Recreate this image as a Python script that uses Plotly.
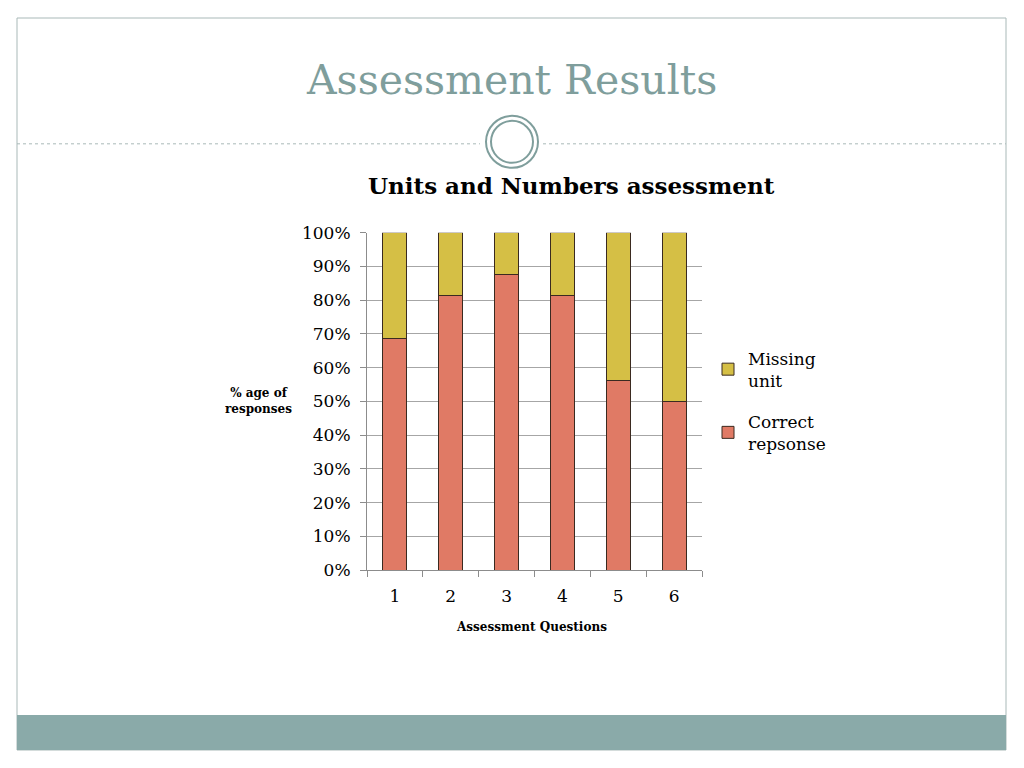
import plotly.graph_objects as go

# Data
questions = ["1", "2", "3", "4", "5", "6"]
correct_response = [68.75, 81.25, 87.5, 81.25, 56.25, 50.0]
missing_unit = [31.25, 18.75, 12.5, 18.75, 43.75, 50.0]
y_ticks = [0, 10, 20, 30, 40, 50, 60, 70, 80, 90, 100]
y_tick_labels = [f"{v}%" for v in y_ticks]

# figure sits inside the page body, so size it to fit the window
W, H = 1008, 752
TEAL = "#7f9e9c"
SERIF = "DejaVu Serif"


def px(x):
    # screen pixel -> paper fraction
    return (x - 8) / W


def py(y):
    # the figure shows up between y=17 and y=750 on screen
    return 1 - (y - 17) / 733


fig = go.Figure()
fig.add_trace(go.Bar(
    x=questions, y=correct_response, name="Correct<br>repsonse",
    legendgroup="correct", legendrank=2,
    marker=dict(color="#e07a65", line=dict(color="#3a2a20", width=1)),
))
fig.add_trace(go.Bar(
    x=questions, y=missing_unit, name="Missing<br>unit",
    legendgroup="missing", legendrank=1,
    marker=dict(color="#d5bf45", line=dict(color="#3a2a20", width=1)),
))

shapes = [
    # slide frame
    dict(type="rect", xref="paper", yref="paper", x0=px(17), x1=px(1006),
         y0=py(750), y1=py(17), line=dict(color="#a9b9b8", width=1)),
    # footer band
    dict(type="rect", xref="paper", yref="paper", x0=px(17), x1=px(1006),
         y0=py(750), y1=py(715), fillcolor="#8aaaa9", line=dict(width=0)),
    # dashed divider
    dict(type="line", xref="paper", yref="paper", x0=px(17), x1=px(480),
         y0=py(143), y1=py(143), line=dict(color="#a9b9b8", width=1, dash="dot")),
    dict(type="line", xref="paper", yref="paper", x0=px(543), x1=px(1006),
         y0=py(143), y1=py(143), line=dict(color="#a9b9b8", width=1, dash="dot")),
    # double circle ornament
    dict(type="circle", xref="paper", yref="paper", x0=px(486), x1=px(538),
         y0=py(167), y1=py(115), line=dict(color=TEAL, width=2)),
    dict(type="circle", xref="paper", yref="paper", x0=px(491), x1=px(533),
         y0=py(162), y1=py(120), line=dict(color=TEAL, width=2)),
]


def label(text, x, y, size, color="black"):
    return dict(text=text, x=px(x), y=py(y), xref="paper", yref="paper",
                xanchor="center", yanchor="middle", showarrow=False,
                font=dict(family=SERIF, size=size, color=color))


annotations = [
    label("Assessment Results", 511, 79, 41, TEAL),
    label("<b>Units and Numbers assessment</b>", 571, 185, 23),
    label("<b>% age of<br>responses</b>", 258, 401, 12),
    label("<b>Assessment Questions</b>", 531, 627, 12),
]

fig.update_layout(
    width=W, height=H,
    margin=dict(l=0, r=0, t=0, b=0),
    paper_bgcolor="white", plot_bgcolor="white",
    barmode="stack", bargap=0.57,
    font=dict(family=SERIF, color="black"),
    shapes=shapes, annotations=annotations,
    legend=dict(x=px(708), y=py(340), xanchor="left", yanchor="top",
                traceorder="grouped", font=dict(family=SERIF, size=17),
                itemwidth=30, tracegroupgap=16, bgcolor="rgba(0,0,0,0)"),
    xaxis=dict(domain=[px(367), px(702)], showgrid=False, showline=True,
               linecolor="#8c8c8c", ticks="outside", tickson="boundaries",
               ticklen=6, tickcolor="#8c8c8c", ticklabelstandoff=10,
               tickfont=dict(family=SERIF, size=17)),
    yaxis=dict(domain=[py(570), py(232)], range=[0, 100],
               tickvals=y_ticks, ticktext=y_tick_labels,
               showgrid=True, gridcolor="#a6a6a6", showline=True,
               linecolor="#8c8c8c", ticks="outside", ticklen=6,
               tickcolor="#8c8c8c", zeroline=False, ticklabelstandoff=6,
               tickfont=dict(family=SERIF, size=17)),
)

fig.write_html("out.html")
